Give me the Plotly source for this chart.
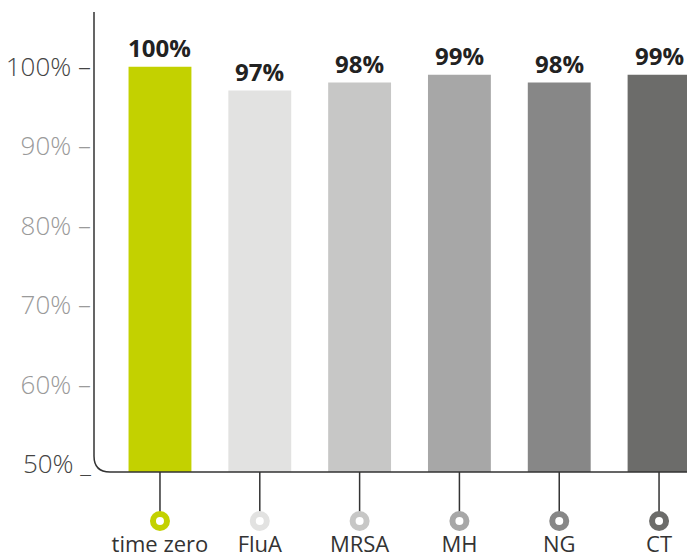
import plotly.graph_objects as go

categories = ["time zero", "FluA", "MRSA", "MH", "NG", "CT"]
values = [100, 97, 98, 99, 98, 99]
bar_colors = ["#c3d100", "#e2e2e1", "#c7c7c6", "#a7a7a7", "#878787", "#6c6c6a"]
tick_values = [50, 60, 70, 80, 90, 100]
tick_labels = ["50%", "60%", "70%", "80%", "90%", "100%"]

W, H = 687, 559
ML, MR, MT, MB = 94, 0, 12, 0
plot_w = W - ML - MR
plot_h = H - MT - MB
axis_px = 472               # pixel row of the bottom axis line
lower_h = H - axis_px       # height of the lower (label) band in px
dom_split = lower_h / plot_h

x_idx = list(range(len(categories)))

fig = go.Figure()

# bars
fig.add_trace(go.Bar(
    x=x_idx, y=values, width=0.63,
    marker=dict(color=bar_colors, line=dict(width=0)),
    xaxis="x", yaxis="y", hoverinfo="skip",
))

# value labels
for i, v in zip(x_idx, values):
    fig.add_annotation(
        x=i, y=v, xref="x", yref="y", text=f"{v}%", showarrow=False,
        yanchor="bottom", yshift=1,
        font=dict(family="Open Sans", size=24, color="#222222", weight=700),
    )

# connector lines in the lower band
lx, ly = [], []
for i in x_idx:
    lx += [i, i, None]
    ly += [lower_h, 38, None]
fig.add_trace(go.Scatter(
    x=lx, y=ly, mode="lines", line=dict(color="#333333", width=1.5),
    xaxis="x", yaxis="y2", hoverinfo="skip", cliponaxis=False,
))
# ring markers
fig.add_trace(go.Scatter(
    x=x_idx, y=[38] * len(x_idx), mode="markers",
    marker=dict(symbol="circle", size=14, color="white",
                line=dict(color=bar_colors, width=6)),
    xaxis="x", yaxis="y2", hoverinfo="skip", cliponaxis=False,
))
# category labels
fig.add_trace(go.Scatter(
    x=x_idx, y=[13] * len(x_idx), mode="text", text=categories,
    textposition="middle center",
    textfont=dict(family="Open Sans", size=22, color="#333333"),
    xaxis="x", yaxis="y2", hoverinfo="skip", cliponaxis=False,
))

ticktext = []
for v, t in zip(tick_values, tick_labels):
    if v in (50, 100):
        mark = " _" if v == 50 else " –"
        ticktext.append(f'<span style="color:#444444">{t}{mark}</span>')
    else:
        ticktext.append(f"{t} –")

# y scale: 100% at px 66.7, 7.95 px per unit
px100 = 66.7
ppu = 7.95
ymin = 100 - (axis_px - px100) / ppu
ymax = 100 + (px100 - MT) / ppu

fig.update_layout(
    width=W, height=H,
    margin=dict(l=ML, r=MR, t=MT, b=MB, pad=0, autoexpand=False),
    paper_bgcolor="white", plot_bgcolor="rgba(0,0,0,0)",
    showlegend=False,
    font=dict(family="Open Sans"),
    xaxis=dict(range=[-0.661, 5.28], visible=False, fixedrange=True,
               automargin=False),
    yaxis=dict(domain=[dom_split, 1], range=[ymin, ymax],
               tickvals=tick_values, ticktext=ticktext,
               tickfont=dict(family="Open Sans", size=26, color="#9a9a9a", weight=300),
               showgrid=False, zeroline=False, showline=False, ticks="",
               automargin=False, ticklabelstandoff=2, fixedrange=True),
    yaxis2=dict(domain=[0, dom_split], range=[0, lower_h], visible=False,
                anchor="x", automargin=False, fixedrange=True),
)

# axis frame with rounded corner (paper coords)
r = 16
yb = lower_h / plot_h
path = (f"M 0,1 L 0,{(lower_h + r) / plot_h} "
        f"Q 0,{yb} {r / plot_w},{yb} L 1,{yb}")
fig.add_shape(type="path", xref="paper", yref="paper", path=path,
              line=dict(color="#333333", width=1.5), layer="above")

fig.write_html("out.html", config={"displayModeBar": False},
               post_script="document.body.style.margin='0';document.body.style.overflow='hidden';")
